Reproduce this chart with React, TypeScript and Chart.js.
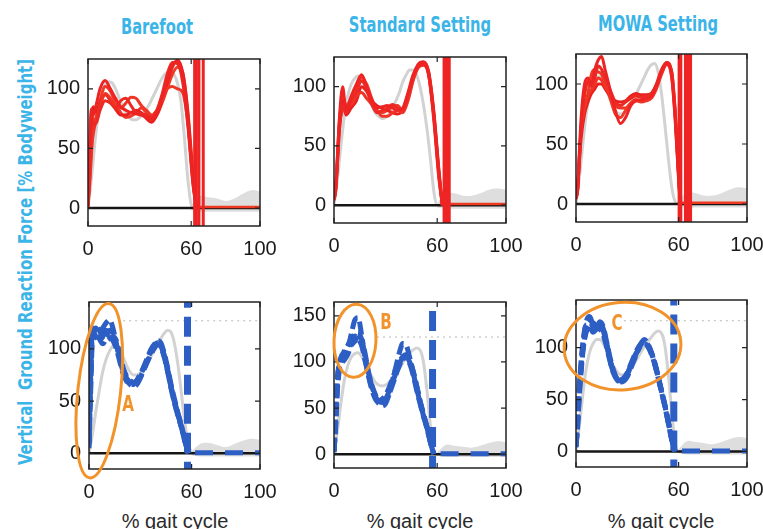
import React, { useEffect, useRef } from "react";
import { Chart, registerables } from "chart.js";

Chart.register(...registerables);

// ---------------- DATA ----------------
const X_TICKS = [0, 60, 100];
const Y_TICKS_TOP = [0, 50, 100];
const Y_TICKS_BOT = [0, 50, 100];
const Y_TICKS_BOT_STD = [0, 50, 100, 150];

const TITLES = ["Barefoot", "Standard Setting", "MOWA Setting"];
const Y_LABEL = "Vertical  Ground Reaction Force [% Bodyweight]";
const X_LABEL = "% gait cycle";

// gray reference (normal gait) stance curve
const refX = [0, 2, 4, 6, 8, 10, 12, 14, 16, 18, 20, 22, 24, 26, 28, 30, 32, 34, 36, 38, 40, 42, 44, 46, 48, 50, 52, 54, 56, 58, 60, 62];
const refBare = [0, 25, 55, 80, 96, 104, 106, 105, 100, 93, 86, 80, 76, 74, 74, 76, 79, 83, 88, 94, 100, 106, 111, 114, 115, 112, 105, 90, 60, 25, 3, 0];
const refStd = [0, 22, 50, 75, 92, 102, 107, 109, 106, 100, 92, 84, 78, 75, 73, 74, 77, 82, 88, 95, 104, 110, 114, 114, 110, 100, 85, 65, 40, 12, 0, 0];
const refMowa = [0, 22, 50, 75, 92, 102, 106, 106, 102, 95, 87, 80, 76, 75, 76, 79, 83, 88, 94, 100, 106, 112, 116, 117, 110, 92, 66, 38, 14, 2, 0, 0];
const refBareB = [0, 18, 40, 60, 78, 90, 98, 103, 104, 100, 92, 84, 78, 75, 75, 77, 81, 86, 92, 98, 104, 110, 115, 118, 116, 105, 85, 58, 30, 10, 1, 0];
const refStdB = [0, 25, 55, 80, 96, 105, 109, 110, 106, 99, 91, 84, 78, 75, 74, 75, 78, 82, 87, 93, 99, 105, 110, 113, 115, 113, 100, 70, 32, 5, 0, 0];
const refMowaB = [0, 25, 55, 80, 96, 104, 108, 108, 104, 97, 89, 82, 77, 74, 74, 76, 80, 85, 90, 96, 101, 106, 110, 114, 116, 114, 102, 74, 38, 8, 0, 0];

// gray reference swing band
const bandX = [60, 65, 70, 75, 80, 85, 90, 95, 100];
const bandLow = [-2, -3, -3, -3, -3, -3, -3, -3, -3];
const bandHighBare = [2, 10, 9, 8, 6, 8, 12, 15, 14];
const bandHighStd = [2, 10, 10, 8, 8, 10, 13, 14, 13];
const bandHighMowa = [2, 10, 9, 7, 7, 9, 12, 14, 13];
const bandHighBareB = [2, 9, 10, 8, 6, 9, 12, 14, 13];
const bandHighStdB = [2, 10, 9, 8, 7, 9, 12, 14, 13];
const bandHighMowaB = [2, 10, 9, 8, 7, 9, 12, 14, 13];

// top row: red trials
const bareTopX = [0, 1, 2, 3, 5, 7, 10, 13, 16, 19, 22, 25, 28, 31, 34, 37, 40, 43, 46, 49, 52, 55, 58, 61, 63];
const bareTop1 = [2, 40, 80, 78, 88, 100, 107, 100, 92, 85, 82, 80, 79, 78, 76, 75, 80, 92, 108, 120, 123, 110, 75, 22, 0];
const bareTop2 = [3, 55, 83, 70, 72, 82, 90, 88, 84, 90, 92, 86, 80, 79, 78, 76, 82, 95, 112, 122, 121, 106, 70, 20, 0];
const bareTop3 = [1, 25, 50, 62, 75, 85, 96, 92, 85, 84, 88, 93, 92, 86, 82, 78, 82, 90, 100, 102, 100, 97, 72, 24, 0];
const bareTop4 = [2, 30, 70, 85, 80, 88, 95, 90, 83, 78, 78, 80, 82, 80, 75, 72, 78, 90, 105, 118, 124, 114, 80, 26, 0];
const bareTop5 = [1, 20, 45, 65, 78, 90, 102, 98, 88, 80, 76, 77, 80, 84, 80, 74, 78, 88, 100, 112, 118, 114, 82, 30, 0];
const bareCutX = [62, 63, 64.5, 67];
const bareSwingX = [63, 100];
const bareSwingY = [1, 1];

const stdTopX = [0, 1, 2, 3, 5, 7, 10, 13, 16, 19, 22, 25, 28, 31, 34, 37, 40, 43, 46, 49, 52, 55, 58, 61, 63];
const stdTop1 = [5, 15, 40, 70, 100, 80, 92, 102, 110, 100, 88, 82, 83, 84, 82, 80, 82, 95, 110, 118, 120, 110, 75, 25, 0];
const stdTop2 = [4, 12, 35, 60, 85, 78, 88, 95, 105, 98, 85, 78, 80, 82, 85, 82, 80, 92, 108, 117, 119, 112, 78, 28, 0];
const stdTop3 = [5, 14, 38, 62, 80, 82, 85, 92, 95, 90, 85, 80, 75, 75, 78, 80, 78, 88, 105, 116, 118, 110, 72, 22, 0];
const stdTop4 = [6, 16, 42, 68, 88, 76, 82, 88, 100, 96, 88, 84, 82, 80, 78, 77, 80, 93, 109, 119, 121, 113, 80, 30, 0];
const stdTop5 = [5, 13, 36, 64, 92, 84, 90, 98, 108, 102, 90, 80, 78, 80, 83, 84, 79, 90, 106, 117, 120, 111, 76, 26, 0];
const stdCutX = [64, 65, 66, 67];
const stdSwingX = [64, 100];
const stdSwingY = [1, 1];

const mowaTopX = [0, 1, 2, 3, 5, 7, 9, 11, 13, 15, 17, 20, 23, 26, 29, 32, 35, 38, 41, 44, 47, 50, 53, 56, 58, 60, 61];
const mowaTop1 = [5, 15, 45, 72, 100, 105, 100, 112, 120, 123, 112, 95, 78, 67, 72, 82, 86, 87, 88, 90, 98, 110, 117, 105, 70, 20, 0];
const mowaTop2 = [4, 12, 38, 65, 90, 102, 98, 105, 115, 112, 105, 95, 85, 82, 85, 88, 90, 89, 90, 92, 100, 112, 118, 108, 75, 25, 0];
const mowaTop3 = [5, 13, 40, 62, 80, 90, 95, 100, 105, 103, 98, 90, 82, 80, 80, 84, 86, 85, 86, 88, 96, 108, 116, 110, 78, 28, 0];
const mowaTop4 = [6, 14, 35, 55, 75, 85, 92, 96, 100, 100, 96, 90, 86, 85, 86, 90, 92, 91, 91, 92, 99, 111, 118, 110, 76, 24, 0];
const mowaTop5 = [5, 12, 40, 60, 78, 92, 108, 112, 110, 108, 100, 88, 75, 72, 78, 84, 87, 86, 87, 89, 97, 109, 117, 106, 72, 22, 0];
const mowaCutX = [60.3, 61.3, 64, 65, 66, 67];
const mowaSwingX = [62, 100];
const mowaSwingY = [1, 1];

// bottom row: blue dashed trials
const botX = [0, 1, 2, 4, 6, 8, 10, 12, 14, 16, 18, 20, 22, 24, 26, 28, 30, 32, 34, 36, 38, 40, 42, 44, 46, 48, 50, 52, 54, 56, 58];
const bareBot1 = [10, 80, 120, 118, 115, 120, 125, 128, 120, 105, 90, 78, 70, 66, 64, 66, 72, 80, 88, 96, 102, 106, 104, 94, 80, 64, 50, 38, 26, 13, 0];
const bareBot2 = [5, 60, 110, 122, 118, 110, 108, 110, 112, 108, 95, 82, 74, 70, 68, 70, 75, 82, 90, 97, 103, 108, 106, 96, 82, 66, 52, 39, 27, 14, 1];
const bareBot3 = [8, 70, 115, 120, 110, 105, 110, 118, 115, 104, 92, 80, 72, 68, 65, 67, 73, 80, 87, 94, 100, 104, 102, 92, 78, 62, 48, 36, 25, 12, 0];
const bareBot4 = [12, 85, 118, 112, 108, 112, 118, 112, 108, 100, 88, 76, 69, 66, 66, 70, 76, 83, 91, 99, 104, 106, 103, 93, 79, 63, 49, 37, 25, 12, 0];
const bareBotCutX = [57.6];

const stdBot1 = [3, 40, 80, 105, 110, 115, 130, 145, 148, 130, 105, 85, 70, 60, 55, 52, 55, 65, 80, 95, 110, 120, 118, 105, 90, 75, 58, 44, 30, 14, 0];
const stdBot2 = [2, 30, 70, 100, 112, 118, 125, 130, 132, 125, 110, 90, 75, 65, 58, 56, 58, 65, 75, 86, 96, 103, 105, 100, 88, 72, 56, 42, 29, 13, 0];
const stdBot3 = [3, 35, 75, 100, 108, 112, 120, 128, 125, 118, 102, 86, 72, 62, 57, 57, 60, 68, 78, 88, 98, 104, 104, 98, 86, 70, 55, 41, 28, 13, 0];
const stdBot4 = [4, 45, 85, 98, 102, 108, 118, 122, 126, 120, 106, 88, 74, 63, 58, 60, 64, 72, 82, 92, 100, 106, 108, 102, 90, 74, 58, 43, 30, 14, 0];
const stdBotCutX = [57.3];

const mowaBot1 = [5, 30, 60, 100, 125, 130, 122, 120, 125, 120, 105, 90, 78, 70, 67, 68, 72, 80, 88, 96, 103, 106, 102, 95, 85, 72, 58, 44, 28, 12, 0];
const mowaBot2 = [4, 25, 55, 95, 118, 125, 120, 118, 123, 118, 104, 88, 76, 70, 68, 70, 75, 83, 90, 97, 102, 104, 101, 94, 84, 71, 57, 43, 27, 11, 0];
const mowaBot3 = [6, 35, 65, 105, 122, 120, 115, 118, 121, 116, 102, 87, 76, 71, 69, 71, 76, 84, 92, 99, 104, 107, 103, 96, 86, 73, 59, 45, 29, 12, 0];
const mowaBot4 = [5, 28, 58, 98, 115, 122, 124, 120, 118, 112, 100, 86, 75, 69, 67, 69, 74, 82, 90, 98, 104, 108, 104, 96, 85, 72, 58, 44, 28, 12, 0];
const mowaBotCutX = [57.2];

const botSwingX = [62, 100];
const botSwingY = [0.5, 0.5];

// dotted reference level (bottom row)
const bareDotX = [20, 100];
const bareDotY = [127, 127];
const stdDotX = [25, 100];
const stdDotY = [127, 127];
const mowaDotX = [28, 100];
const mowaDotY = [126, 126];

// annotations (data units): centre, semi-axes, rotation, letter position
const annA = { cx: 6, cy: 60, rx: 12.5, ry: 84, rot: 0.11, label: "A", lx: 22.8, ly: 46 };
const annB = { cx: 12.2, cy: 123, rx: 12.2, ry: 39.7, rot: 0.05, label: "B", lx: 30.2, ly: 142 };
const annC = { cx: 27.2, cy: 101.5, rx: 34.2, ry: 42.2, rot: -0.08, label: "C", lx: 24, ly: 122 };

// ---------------- STYLE ----------------
const RED_SHADES = ["#ee2424", "#ec2a24", "#f03526", "#e8201f", "#f03a28"];
const BLUE = "#2d5ec4";
const ORANGE = "#f2922a";
const TITLE_BLUE = "#3bb4e8";
const GRAY_LINE = "#d2d2d2";
const GRAY_BAND = "#dedede";
const NARROW = "'DejaVu Sans Condensed', 'DejaVu Sans', sans-serif";
const SANS = "'Liberation Sans', Arial, Helvetica, sans-serif";

const Y_AXIS_W = 50;
const X_AXIS_H = 40;
const PAD_TOP = 8;
const PAD_RIGHT = 18;

type Ann = { cx: number; cy: number; rx: number; ry: number; rot: number; label: string; lx: number; ly: number };
type PanelDef = {
  box: { l: number; t: number; r: number; b: number };
  yMin: number; yMax: number; yTicks: number[];
  x: number[]; curves: number[][]; kind: "red" | "blue";
  cuts: number[]; swingX: number[]; swingY: number[];
  refX: number[]; refY: number[]; bandHigh: number[];
  dotX?: number[]; dotY?: number[]; ann?: Ann;
};

const PANELS: PanelDef[] = [
  { box: { l: 88, t: 59, r: 260, b: 226 }, yMin: -15, yMax: 125, yTicks: Y_TICKS_TOP, x: bareTopX, curves: [bareTop1, bareTop2, bareTop3, bareTop4, bareTop5], kind: "red", cuts: bareCutX, swingX: bareSwingX, swingY: bareSwingY, refX, refY: refBare, bandHigh: bandHighBare },
  { box: { l: 334, t: 57, r: 506, b: 223 }, yMin: -15, yMax: 125, yTicks: Y_TICKS_TOP, x: stdTopX, curves: [stdTop1, stdTop2, stdTop3, stdTop4, stdTop5], kind: "red", cuts: stdCutX, swingX: stdSwingX, swingY: stdSwingY, refX, refY: refStd, bandHigh: bandHighStd },
  { box: { l: 576, t: 54, r: 747, b: 222 }, yMin: -15, yMax: 125, yTicks: Y_TICKS_TOP, x: mowaTopX, curves: [mowaTop1, mowaTop2, mowaTop3, mowaTop4, mowaTop5], kind: "red", cuts: mowaCutX, swingX: mowaSwingX, swingY: mowaSwingY, refX, refY: refMowa, bandHigh: bandHighMowa },
  { box: { l: 89, t: 302, r: 260, b: 469 }, yMin: -15, yMax: 145, yTicks: Y_TICKS_BOT, x: botX, curves: [bareBot1, bareBot2, bareBot3, bareBot4], kind: "blue", cuts: bareBotCutX, swingX: botSwingX, swingY: botSwingY, refX, refY: refBareB, bandHigh: bandHighBareB, dotX: bareDotX, dotY: bareDotY, ann: annA },
  { box: { l: 334, t: 302, r: 506, b: 468 }, yMin: -15, yMax: 165, yTicks: Y_TICKS_BOT_STD, x: botX, curves: [stdBot1, stdBot2, stdBot3, stdBot4], kind: "blue", cuts: stdBotCutX, swingX: botSwingX, swingY: botSwingY, refX, refY: refStdB, bandHigh: bandHighStdB, dotX: stdDotX, dotY: stdDotY, ann: annB },
  { box: { l: 576, t: 300, r: 747, b: 467 }, yMin: -15, yMax: 146, yTicks: Y_TICKS_BOT, x: botX, curves: [mowaBot1, mowaBot2, mowaBot3, mowaBot4], kind: "blue", cuts: mowaBotCutX, swingX: botSwingX, swingY: botSwingY, refX, refY: refMowaB, bandHigh: bandHighMowaB, dotX: mowaDotX, dotY: mowaDotY, ann: annC },
];

const pts = (xs: number[], ys: number[]) => ys.map((y, i) => ({ x: xs[i], y }));

function buildDatasets(p: PanelDef) {
  const ds: any[] = [];
  const isRed = p.kind === "red";
  // vertical cut lines
  p.cuts.forEach((x) => {
    ds.push({
      data: [{ x, y: p.yMin - 40 }, { x, y: p.yMax + 40 }],
      borderColor: isRed ? "#ee2424" : BLUE,
      borderWidth: isRed ? 3 : 7,
      borderDash: isRed ? [] : [20, 9],
      pointRadius: 0,
      clip: 0,
      order: 0,
    });
  });
  // trials
  p.curves.forEach((ys, i) => {
    ds.push({
      data: pts(p.x, ys),
      borderColor: isRed ? RED_SHADES[i % RED_SHADES.length] : BLUE,
      borderWidth: isRed ? 3 : 5,
      borderDash: isRed ? [] : [13, 5],
      pointRadius: 0,
      cubicInterpolationMode: "monotone",
      order: 1,
    });
  });
  // swing phase flat line
  ds.push({
    data: pts(p.swingX, p.swingY),
    borderColor: isRed ? "#ee3a22" : BLUE,
    borderWidth: isRed ? 2.5 : 5,
    borderDash: isRed ? [] : [18, 12],
    pointRadius: 0,
    order: 2,
  });
  // zero line
  ds.push({
    data: [{ x: 0, y: 0 }, { x: 100, y: 0 }],
    borderColor: "#151515",
    borderWidth: 2.5,
    pointRadius: 0,
    order: 3,
  });
  // dotted reference
  if (p.dotX && p.dotY) {
    ds.push({
      data: pts(p.dotX, p.dotY),
      borderColor: "#b8b8b8",
      borderWidth: 1,
      borderDash: [2, 4],
      pointRadius: 0,
      order: 4,
    });
  }
  // gray normal reference stance curve
  ds.push({
    data: pts(p.refX, p.refY),
    borderColor: GRAY_LINE,
    borderWidth: 3,
    pointRadius: 0,
    cubicInterpolationMode: "monotone",
    order: 5,
  });
  // swing band
  const lowIdx = ds.length;
  ds.push({
    data: pts(bandX, bandLow),
    borderColor: GRAY_BAND,
    borderWidth: 0,
    pointRadius: 0,
    tension: 0.4,
    order: 7,
  });
  ds.push({
    data: pts(bandX, p.bandHigh),
    borderColor: GRAY_BAND,
    backgroundColor: GRAY_BAND,
    borderWidth: 0,
    pointRadius: 0,
    tension: 0.4,
    fill: lowIdx,
    order: 6,
  });
  return ds;
}

function PanelChart({ p }: { p: PanelDef }) {
  const ref = useRef<HTMLCanvasElement>(null);
  const w = p.box.r - p.box.l + Y_AXIS_W + PAD_RIGHT;
  const h = p.box.b - p.box.t + PAD_TOP + X_AXIS_H;

  useEffect(() => {
    const boxPlugin = {
      id: "boxAndAnnot",
      afterDatasetsDraw(chart: any) {
        const { ctx, chartArea: a, scales } = chart;
        const xs = scales.x;
        const ys = scales.y;
        ctx.save();
        ctx.strokeStyle = "#222";
        ctx.lineWidth = 1.5;
        ctx.strokeRect(a.left, a.top, a.right - a.left, a.bottom - a.top);
        ctx.lineWidth = 1.2;
        const tl = 5;
        X_TICKS.forEach((v) => {
          const px = xs.getPixelForValue(v);
          ctx.beginPath();
          ctx.moveTo(px, a.bottom);
          ctx.lineTo(px, a.bottom - tl);
          ctx.moveTo(px, a.top);
          ctx.lineTo(px, a.top + tl);
          ctx.stroke();
        });
        p.yTicks.forEach((v) => {
          const py = ys.getPixelForValue(v);
          ctx.beginPath();
          ctx.moveTo(a.left, py);
          ctx.lineTo(a.left + tl, py);
          ctx.moveTo(a.right, py);
          ctx.lineTo(a.right - tl, py);
          ctx.stroke();
        });
        if (p.ann) {
          const an = p.ann;
          const cx = xs.getPixelForValue(an.cx);
          const cy = ys.getPixelForValue(an.cy);
          const rx = Math.abs(xs.getPixelForValue(an.cx + an.rx) - cx);
          const ry = Math.abs(ys.getPixelForValue(an.cy + an.ry) - cy);
          ctx.strokeStyle = ORANGE;
          ctx.lineWidth = 3;
          ctx.beginPath();
          ctx.ellipse(cx, cy, rx, ry, an.rot, 0, Math.PI * 2);
          ctx.stroke();
          ctx.fillStyle = ORANGE;
          ctx.font = `bold 21px ${NARROW}`;
          ctx.textAlign = "center";
          ctx.textBaseline = "middle";
          const lx = xs.getPixelForValue(an.lx);
          const ly = ys.getPixelForValue(an.ly);
          ctx.translate(lx, ly);
          ctx.scale(0.8, 1);
          ctx.fillText(an.label, 0, 0);
        }
        ctx.restore();
      },
    };

    const tickFont = { family: SANS, size: 20 };
    const chart = new Chart(ref.current as HTMLCanvasElement, {
      type: "line",
      data: { datasets: buildDatasets(p) },
      options: {
        animation: false,
        responsive: false,
        maintainAspectRatio: false,
        devicePixelRatio: 1,
        events: [],
        parsing: false as any,
        normalized: true,
        layout: { padding: { top: PAD_TOP, right: PAD_RIGHT, bottom: 0, left: 0 } },
        plugins: { legend: { display: false }, tooltip: { enabled: false }, title: { display: false } },
        scales: {
          x: {
            type: "linear",
            min: 0,
            max: 100,
            grid: { display: false, drawTicks: false },
            border: { display: false },
            ticks: { font: tickFont, color: "#1a1a1a", padding: 11, maxRotation: 0, autoSkip: false },
            afterBuildTicks: (s: any) => {
              s.ticks = X_TICKS.map((value) => ({ value }));
            },
            afterFit: (s: any) => {
              s.height = X_AXIS_H;
              s.paddingLeft = 0;
              s.paddingRight = 0;
            },
          },
          y: {
            type: "linear",
            min: p.yMin,
            max: p.yMax,
            grid: { display: false, drawTicks: false },
            border: { display: false },
            ticks: { font: tickFont, color: "#1a1a1a", padding: 8, autoSkip: false },
            afterBuildTicks: (s: any) => {
              s.ticks = p.yTicks.map((value) => ({ value }));
            },
            afterFit: (s: any) => {
              s.width = Y_AXIS_W;
              s.paddingTop = 0;
              s.paddingBottom = 0;
            },
          },
        },
      } as any,
      plugins: [boxPlugin],
    });
    return () => chart.destroy();
  }, []);

  return (
    <canvas
      ref={ref}
      width={w}
      height={h}
      style={{ position: "absolute", left: p.box.l - Y_AXIS_W, top: p.box.t - PAD_TOP, width: w, height: h }}
    />
  );
}

const TITLE_POS = [
  { cx: 157, cy: 27 },
  { cx: 420, cy: 25 },
  { cx: 658, cy: 24 },
];
const XLABEL_POS = [
  { cx: 175, cy: 521 },
  { cx: 420, cy: 521 },
  { cx: 661, cy: 521 },
];

export default function App() {
  return (
    <div style={{ position: "absolute", left: 0, top: 0, width: 763, height: 529, overflow: "hidden", background: "#fff" }}>
      {PANELS.map((p, i) => (
        <PanelChart key={i} p={p} />
      ))}
      {TITLES.map((t, i) => (
        <div
          key={t}
          style={{
            position: "absolute",
            left: TITLE_POS[i].cx - 120,
            top: TITLE_POS[i].cy - 13,
            width: 240,
            height: 26,
            lineHeight: "26px",
            textAlign: "center",
            fontFamily: NARROW,
            fontWeight: "bold",
            fontSize: 21,
            color: TITLE_BLUE,
            whiteSpace: "nowrap",
            transform: "scaleX(0.78)",
          }}
        >
          {t}
        </div>
      ))}
      <div
        style={{
          position: "absolute",
          left: 25,
          top: 262,
          transform: "translate(-50%, -50%) rotate(-90deg) scaleX(0.875)",
          fontFamily: NARROW,
          fontWeight: "bold",
          fontSize: 19,
          lineHeight: "22px",
          color: TITLE_BLUE,
          whiteSpace: "pre",
        }}
      >
        {Y_LABEL}
      </div>
      {XLABEL_POS.map((q, i) => (
        <div
          key={i}
          style={{
            position: "absolute",
            left: q.cx - 100,
            top: q.cy - 12,
            width: 200,
            height: 24,
            lineHeight: "24px",
            textAlign: "center",
            fontFamily: SANS,
            fontSize: 20,
            color: "#2a2a2a",
            whiteSpace: "nowrap",
          }}
        >
          {X_LABEL}
        </div>
      ))}
    </div>
  );
}
